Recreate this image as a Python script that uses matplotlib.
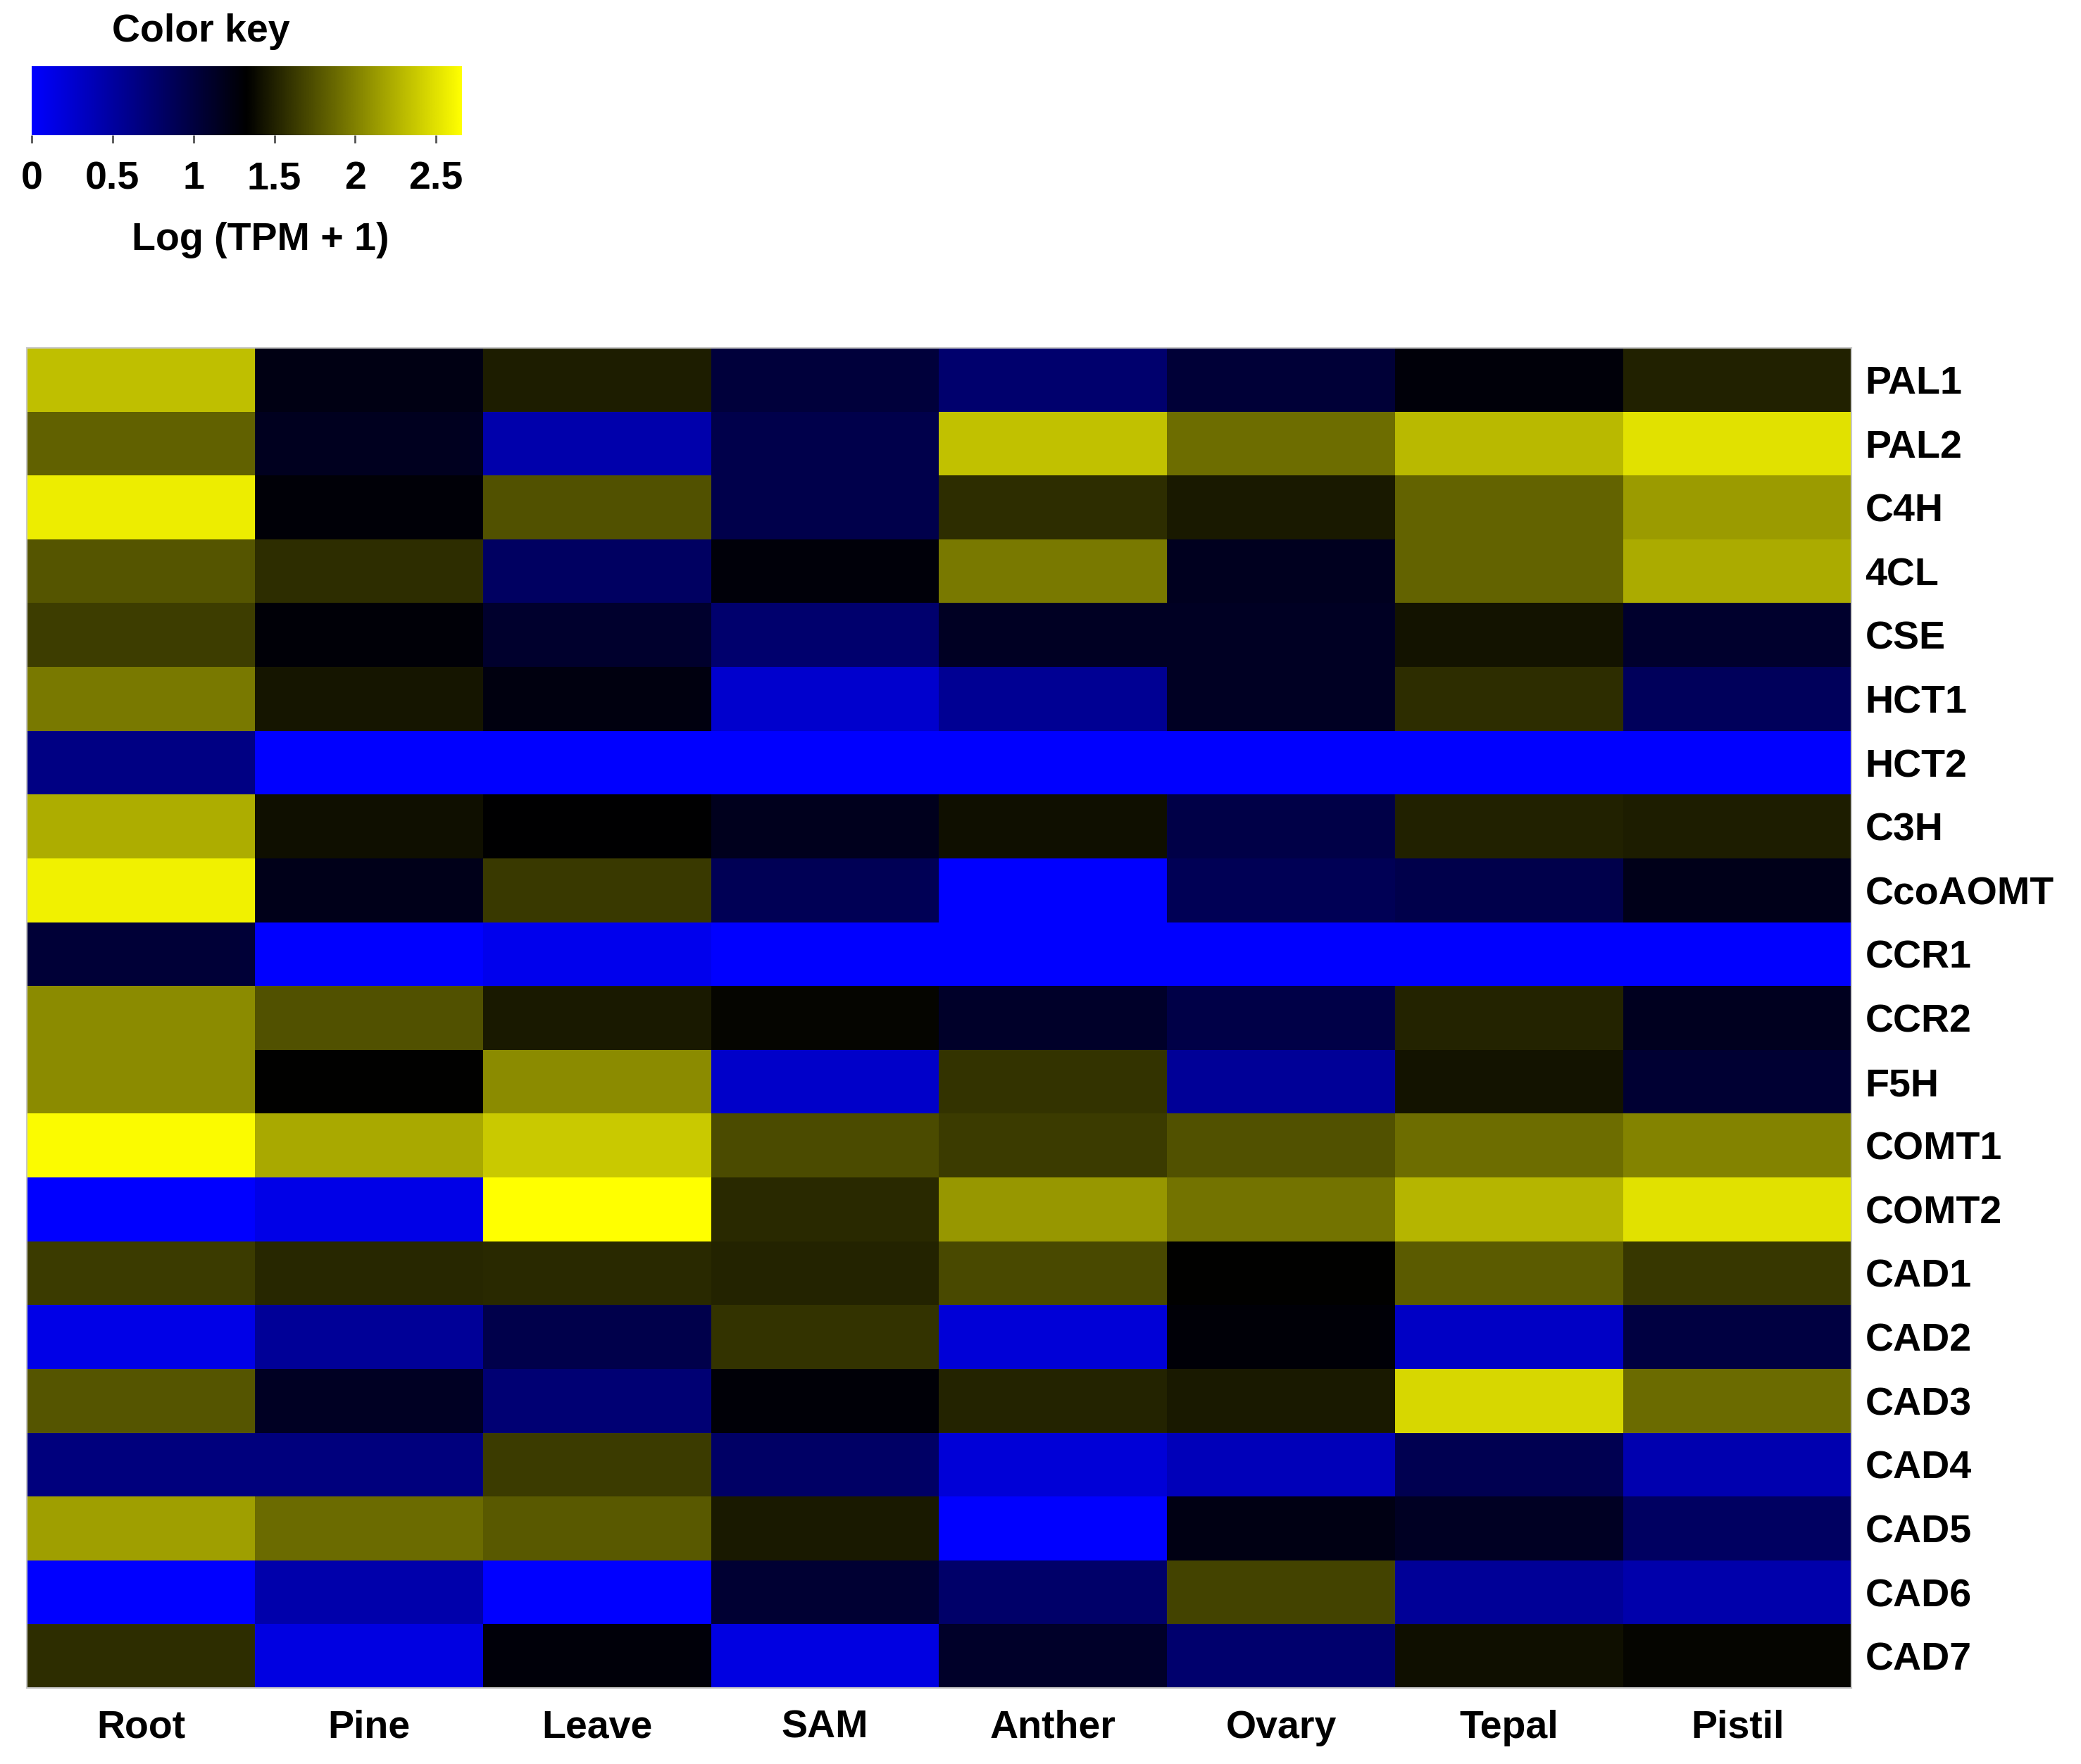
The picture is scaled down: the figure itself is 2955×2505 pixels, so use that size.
import numpy as np
import matplotlib
matplotlib.use("Agg")
import matplotlib.pyplot as plt
from matplotlib.colors import LinearSegmentedColormap

plt.rcParams['font.family'] = ['Liberation Sans', 'DejaVu Sans']
plt.rcParams['font.weight'] = 'bold'

tissues = ["Root", "Pine", "Leave", "SAM", "Anther", "Ovary", "Tepal", "Pistil"]
genes = ["PAL1", "PAL2", "C4H", "4CL", "CSE", "HCT1", "HCT2", "C3H", "CcoAOMT",
         "CCR1", "CCR2", "F5H", "COMT1", "COMT2", "CAD1", "CAD2", "CAD3", "CAD4",
         "CAD5", "CAD6", "CAD7"]

# log(TPM+1) values, rows = genes, columns = tissues
PAL1    = [2.32, 1.23, 1.48, 1.02, 0.76, 1.04, 1.28, 1.50]
PAL2    = [1.83, 1.17, 0.44, 0.94, 2.33, 1.90, 2.29, 2.50]
C4H     = [2.56, 1.29, 1.75, 0.94, 1.56, 1.46, 1.84, 2.14]
CL4     = [1.77, 1.56, 0.83, 1.28, 1.96, 1.17, 1.84, 2.22]
CSE     = [1.65, 1.29, 1.10, 0.76, 1.15, 1.15, 1.43, 1.10]
HCT1    = [1.96, 1.44, 1.25, 0.26, 0.57, 1.15, 1.56, 0.86]
HCT2    = [0.65, 0.00, 0.00, 0.00, 0.00, 0.00, 0.00, 0.00]
C3H     = [2.23, 1.41, 1.32, 1.18, 1.41, 0.96, 1.50, 1.48]
CcoAOMT = [2.58, 1.20, 1.63, 0.89, 0.00, 0.89, 0.94, 1.20]
CCR1    = [1.04, 0.00, 0.10, 0.00, 0.00, 0.00, 0.00, 0.00]
CCR2    = [2.05, 1.75, 1.46, 1.36, 1.12, 0.96, 1.51, 1.17]
F5H     = [2.05, 1.33, 2.05, 0.29, 1.59, 0.55, 1.43, 1.07]
COMT1   = [2.63, 2.21, 2.37, 1.72, 1.64, 1.75, 1.90, 2.01]
COMT2   = [0.00, 0.13, 2.66, 1.54, 2.11, 1.93, 2.27, 2.50]
CAD1    = [1.64, 1.53, 1.54, 1.51, 1.71, 1.33, 1.80, 1.62]
CAD2    = [0.13, 0.55, 0.94, 1.59, 0.21, 1.29, 0.31, 0.99]
CAD3    = [1.77, 1.15, 0.73, 1.29, 1.51, 1.46, 2.45, 1.89]
CAD4    = [0.68, 0.68, 1.64, 0.81, 0.21, 0.37, 0.91, 0.42]
CAD5    = [2.16, 1.89, 1.79, 1.46, 0.00, 1.23, 1.15, 0.83]
CAD6    = [0.00, 0.44, 0.00, 1.07, 0.78, 1.68, 0.55, 0.44]
CAD7    = [1.56, 0.16, 1.28, 0.16, 1.12, 0.76, 1.41, 1.36]

data = np.array([PAL1, PAL2, C4H, CL4, CSE, HCT1, HCT2, C3H, CcoAOMT, CCR1, CCR2,
                 F5H, COMT1, COMT2, CAD1, CAD2, CAD3, CAD4, CAD5, CAD6, CAD7])

key_ticks = [0, 0.5, 1, 1.5, 2, 2.5]
key_ticklabels = ["0", "0.5", "1", "1.5", "2", "2.5"]
vmin, vmax = 0.0, 2.66

cmap = LinearSegmentedColormap.from_list("byk", [(0, "#0000ff"), (0.5, "#000000"), (1, "#ffff00")])

W, H = 2955, 2505
fig = plt.figure(figsize=(W / 100, H / 100), dpi=100)

def ax_px(x0, y0, x1, y1):
    return fig.add_axes([x0 / W, 1 - y1 / H, (x1 - x0) / W, (y1 - y0) / H])

# Heatmap
ax = ax_px(38, 494, 2629, 2397)
ax.pcolormesh(np.arange(len(tissues) + 1), np.arange(len(genes) + 1), data,
              cmap=cmap, vmin=vmin, vmax=vmax)
ax.set_xlim(0, len(tissues))
ax.set_ylim(len(genes), 0)
ax.set_xticks(np.arange(len(tissues)) + 0.5)
ax.set_xticklabels(tissues, fontsize=40, fontweight='bold')
ax.set_yticks(np.arange(len(genes)) + 0.5)
ax.set_yticklabels(genes, fontsize=40, fontweight='bold')
ax.yaxis.tick_right()
ax.tick_params(axis='both', length=0)
ax.tick_params(axis='x', pad=22)
ax.tick_params(axis='y', pad=14)
for s in ax.spines.values():
    s.set_color('#c8c8c8')
    s.set_linewidth(1.5)

# Color key
cax = ax_px(45, 94, 656, 192)
grad = np.linspace(vmin, vmax, 512).reshape(1, -1)
cax.imshow(grad, aspect='auto', cmap=cmap, vmin=vmin, vmax=vmax,
           extent=(vmin, vmax, 0, 1))
cax.set_xlim(vmin, vmax)
cax.set_yticks([])
cax.set_xticks(key_ticks)
cax.set_xticklabels(key_ticklabels, fontsize=40, fontweight='bold')
cax.tick_params(axis='x', length=8, width=2, color='#555555', pad=18)
for s in cax.spines.values():
    s.set_visible(False)

fig.text(285 / W, 1 - 45 / H, "Color key", fontsize=40, fontweight='bold',
         ha='center', va='center')
fig.text(370 / W, 1 - 341 / H, "Log (TPM + 1)", fontsize=40, fontweight='bold',
         ha='center', va='center')

fig.savefig("out.png", dpi=100, facecolor='white')
